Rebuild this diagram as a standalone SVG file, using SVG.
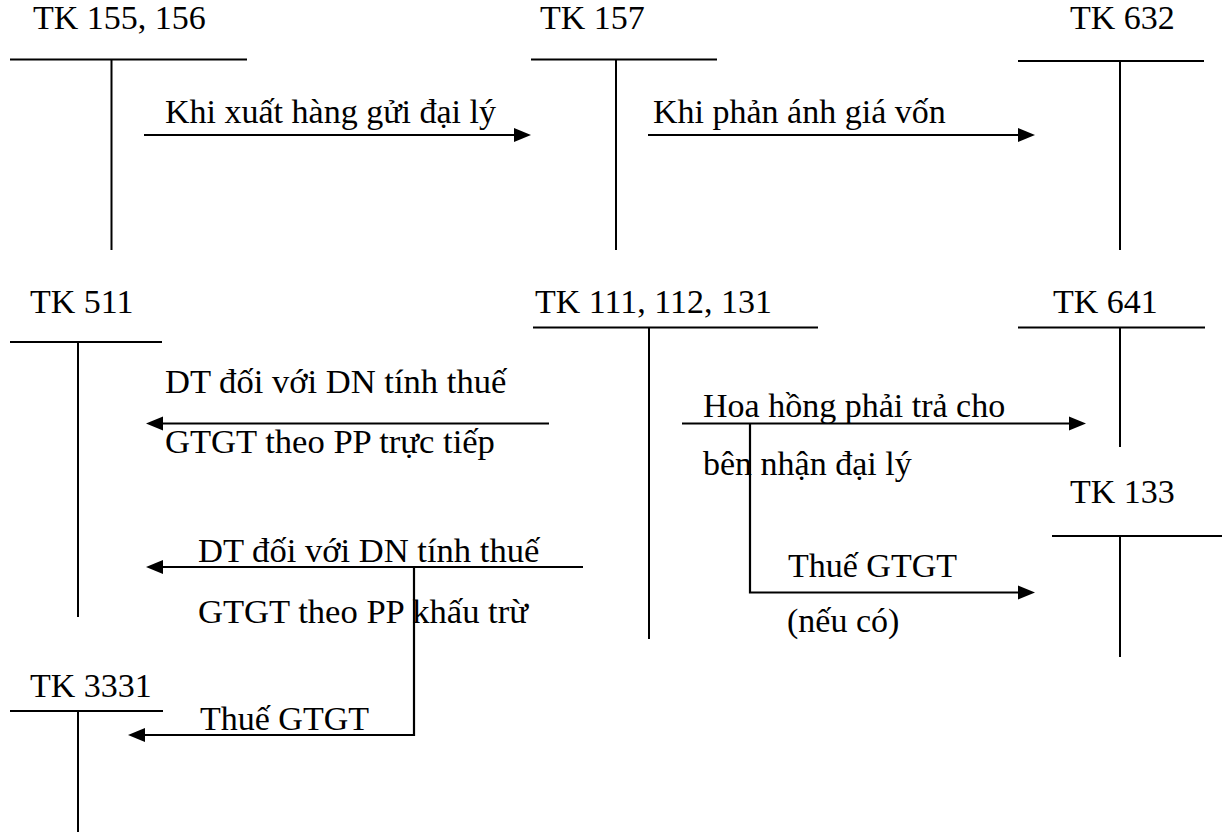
<svg xmlns="http://www.w3.org/2000/svg" width="1226" height="834" viewBox="0 0 1226 834">
<style>
text{font-family:'Liberation Serif','Times New Roman','DejaVu Serif',serif;font-size:34px;fill:#000}
text.w{font-size:34.6px}
.t{stroke:#000;stroke-width:2;fill:none}
.c{stroke:#000;stroke-width:2.2;fill:none;marker-end:url(#ah)}
</style>
<defs>
<marker id="ah" markerUnits="userSpaceOnUse" markerWidth="18" markerHeight="15" refX="0" refY="7" orient="auto" overflow="visible">
<path d="M0,0 L17,7 L0,14 Z" fill="#000"/>
</marker>
</defs>
<rect width="1226" height="834" fill="#fff"/>
<g id="tk155">
<text x="33" y="29">TK 155, 156</text>
<path class="t" d="M10,59.5 H247 M111.5,59.5 V250"/>
</g>
<g id="tk157">
<text x="540" y="29">TK 157</text>
<path class="t" d="M531,59.5 H717 M616,59.5 V250"/>
</g>
<g id="tk632">
<text x="1070" y="29">TK 632</text>
<path class="t" d="M1018,61 H1204 M1120,61 V250"/>
</g>
<g id="tk511">
<text x="30" y="313">TK 511</text>
<path class="t" d="M10,342 H162 M78,342 V617"/>
</g>
<g id="tk111">
<text x="535" y="313">TK 111, 112, 131</text>
<path class="t" d="M533,327.5 H818 M649,327.5 V639"/>
</g>
<g id="tk641">
<text x="1053" y="313">TK 641</text>
<path class="t" d="M1018,327.5 H1205 M1120,327.5 V447"/>
</g>
<g id="tk133">
<text x="1070" y="503">TK 133</text>
<path class="t" d="M1052,536 H1222 M1120,536 V657"/>
</g>
<g id="tk3331">
<text x="30" y="697">TK 3331</text>
<path class="t" d="M10,711 H163 M78,711 V832"/>
</g>
<g id="connectors">
<path class="c" d="M144,135 H514"/>
<path class="c" d="M648,135 H1018"/>
<path class="c" d="M549,423.5 H163"/>
<path class="c" d="M583,567 H163"/>
<path class="c" d="M414,567 V735 H145"/>
<path class="c" d="M682,423.5 H1069"/>
<path class="c" d="M750,423.5 V592.5 H1018"/>
</g>
<g id="labels">
<text x="165" y="123">Khi xuất hàng gửi đại lý</text>
<text x="653" y="123">Khi phản ánh giá vốn</text>
<text class="w" x="165" y="393">DT đối với DN tính thuế</text>
<text class="w" x="165" y="453">GTGT theo PP trực tiếp</text>
<text class="w" x="198" y="562">DT đối với DN tính thuế</text>
<text class="w" x="198" y="623">GTGT theo PP khấu trừ</text>
<text x="200" y="730">Thuế GTGT</text>
<text x="703" y="417">Hoa hồng phải trả cho</text>
<text x="703" y="475">bên nhận đại lý</text>
<text x="788" y="577">Thuế GTGT</text>
<text x="787" y="632">(nếu có)</text>
</g>
</svg>
